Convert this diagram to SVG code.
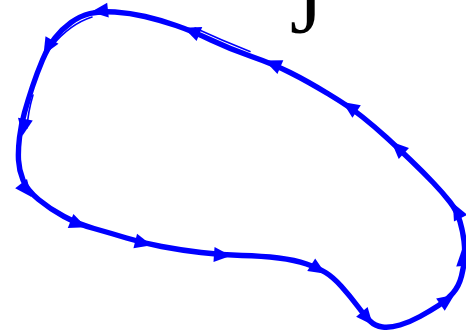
<svg xmlns="http://www.w3.org/2000/svg" width="466" height="335" viewBox="0 0 466 335">
<style>
.curve{fill:none;stroke:#0000ff;stroke-width:5.4;stroke-linejoin:round;stroke-linecap:round}
.thin{fill:none;stroke:#0000ff;stroke-width:1.6;stroke-linecap:round}
.arr{fill:#0000ff}
.lbl{font-family:"Liberation Serif","Times New Roman",serif;font-size:84px;fill:#000}
</style>
<defs>
<polygon id="ah" class="arr" points="9,0 -8,-7.5 -8,7.5"/>
</defs>
<rect width="466" height="335" fill="#fff"/>
<text class="lbl" x="290" y="33">J</text>
<g id="connectors">
<path class="curve" d="M115,12 Q130,13 145,16.5 Q160,20 176,25.5 Q192,31 211,40 Q230,49 251.5,56.5 Q273,64 290,72.5 Q307,81 328.5,94 Q350,107 362.5,117 Q375,127 386.5,137.5 Q398,148 410.5,160 Q423,172 433,182.5 Q443,193 450,202 Q457,211 460,221.5 Q463,232 464,241 Q465,250 464.5,258 Q464,266 461.5,276 Q459,286 453,293 Q447,300 438.5,305.5 Q430,311 420,316.5 Q410,322 400,325 Q390,328 382.5,327 Q375,326 370,321 Q365,316 357.5,306 Q350,296 341.5,286.5 Q333,277 325.5,272.5 Q318,268 306.5,264 Q295,260 278.5,258 Q262,256 242,255.5 Q222,255 201,252.5 Q180,250 161.5,246.5 Q143,243 126.5,238 Q110,233 94,228.5 Q78,224 64,216.5 Q50,209 38.5,199.5 Q27,190 23,180 Q19,170 18.5,160 Q18,150 19.5,137.5 Q21,125 24.5,112.5 Q28,100 32.5,86.5 Q37,73 42.5,60 Q48,47 55,38 Q62,29 71,22.5 Q80,16 90,13.5 Q100,11 115,12 Z"/>
<path class="thin" d="M195,28 Q222,40.5 250,51.5"/>
<path class="thin" d="M92,17 Q70,24 52,46"/>
<path class="thin" d="M33,95 Q28,112 27,128"/>
<use href="#ah" transform="translate(100,11) rotate(174)"/>
<use href="#ah" transform="translate(48,47) rotate(120)"/>
<use href="#ah" transform="translate(24,127) rotate(100)"/>
<use href="#ah" transform="translate(26,190) rotate(52)"/>
<use href="#ah" transform="translate(78,224) rotate(22)"/>
<use href="#ah" transform="translate(143,243) rotate(14)"/>
<use href="#ah" transform="translate(222,255) rotate(4)"/>
<use href="#ah" transform="translate(318,269) rotate(32)"/>
<use href="#ah" transform="translate(367,318) rotate(50)"/>
<use href="#ah" transform="translate(447,300) rotate(-35)"/>
<use href="#ah" transform="translate(463,258) rotate(-95)"/>
<use href="#ah" transform="translate(457,211) rotate(-117)"/>
<use href="#ah" transform="translate(398,148) rotate(-137)"/>
<use href="#ah" transform="translate(350,107) rotate(-146)"/>
<use href="#ah" transform="translate(273,64) rotate(-157)"/>
<use href="#ah" transform="translate(192,31) rotate(-158)"/>
</g>
</svg>
